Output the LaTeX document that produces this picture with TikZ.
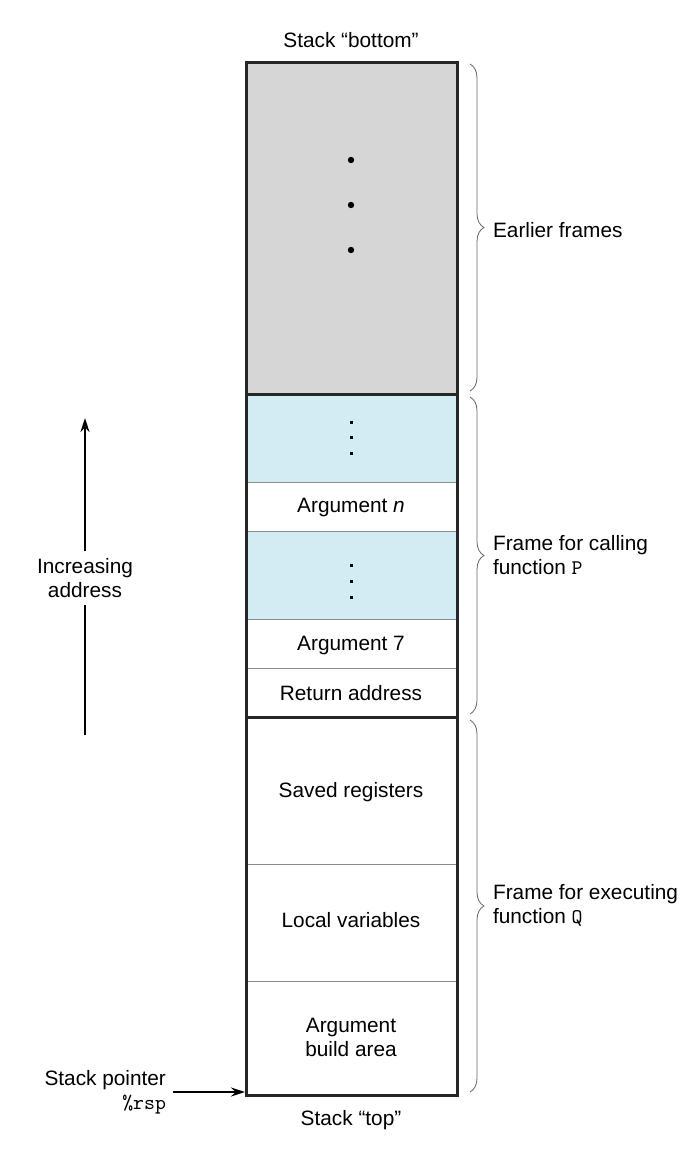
\documentclass[tikz,border=0pt]{standalone}
\usepackage{fontspec}
\setmainfont{Liberation Sans}
\usetikzlibrary{decorations.pathreplacing,arrows.meta}
\definecolor{earliergray}{RGB}{214,214,214}
\definecolor{argblue}{RGB}{211,236,243}

\begin{document}
\begin{tikzpicture}[x=0.5pt,y=-0.5pt,font=\fontsize{10.4}{12}\selectfont,
    sep/.style={draw=black!45, line width=0.5pt},
    heavy/.style={draw=black!85, line width=1.5pt},
    brc/.style={decorate, decoration={brace, amplitude=7pt}, draw=black!60, line width=0.4pt},
    lbl/.style={anchor=west, align=left},
    ptr/.style={line width=0.8pt, -{Stealth[length=7pt,width=4.5pt]}}]
        \useasboundingbox (0,0) rectangle (692,1170);

        % filled regions of the stack
        \fill [earliergray] (246,63) rectangle (457,394);
        \fill [argblue] (246,394) rectangle (457,482);
        \fill [argblue] (246,531) rectangle (457,619);

        \foreach \y in {482,531,619,668,864,981}
          \draw [sep] (246,\y) -- (457,\y);
        \draw [heavy] (246,394) -- (457,394);
        \draw [heavy] (246,717) -- (457,717);
        \draw [heavy] (246,63) rectangle (457,1095);

        \foreach \y in {160,205,250}
          \fill (351,\y) circle (3.2);
        \foreach \y in {422,437,453,565,581,597}
          \fill (349.5,\y-1.5) rectangle (352.5,\y+1.5);

        \node (bottom) at (351,40) {Stack “bottom”};
        \node (top) at (351,1120) {Stack “top”};

        \node (argn) at (351,508) {Argument \textit{n}};
        \node (arg7) at (351,645) {Argument 7};
        \node (ret) at (351,693) {Return address};
        \node (saved) at (351,792) {Saved registers};
        \node (locals) at (351,920) {Local variables};
        \node [align=center] (build) at (351,1037) {Argument\\build area};

        % braces and frame labels
        \draw [brc] (470,64) -- (470,391);
        \draw [brc] (470,397) -- (470,714);
        \draw [brc] (470,720) -- (470,1092);
        \node [lbl] (earlier) at (486,230) {Earlier frames};
        \node [lbl] (framep) at (486,555) {Frame for calling\\function \texttt{P}};
        \node [lbl] (frameq) at (486,905) {Frame for executing\\function \texttt{Q}};

        % increasing address
        \node [align=center] (inc) at (85,578) {Increasing\\address};
        \coordinate (inctop) at (85,418);
        \coordinate (incbot) at (85,735);
        \draw [line width=0.8pt] (incbot) -- (inc);
        \draw [ptr] (inc) -- (inctop);

        % stack pointer
        \node [align=right, anchor=east] (sp) at (173,1092) {Stack pointer\\\texttt{\%rsp}};
        \coordinate (rsp) at (245,1092);
        \draw [ptr] (sp) -- (rsp);
\end{tikzpicture}
\end{document}
